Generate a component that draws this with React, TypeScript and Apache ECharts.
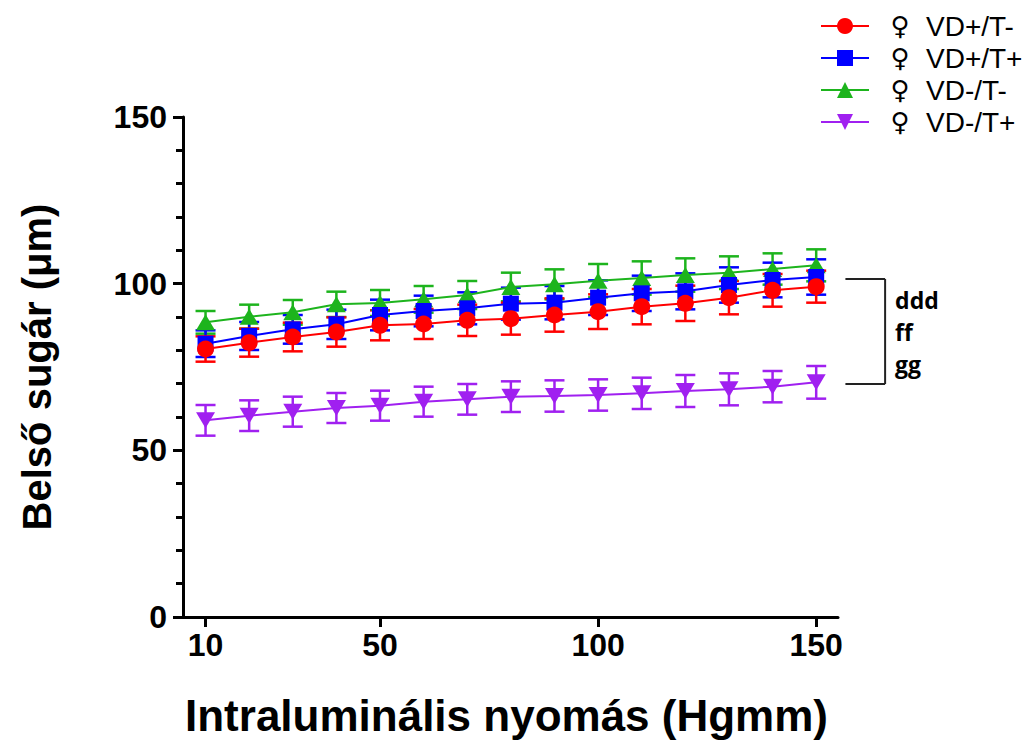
import React, { useEffect, useRef } from "react";
import * as echarts from "echarts";

const pressures = [10, 20, 30, 40, 50, 60, 70, 80, 90, 100, 110, 120, 130, 140, 150];

const vdPosTNeg = [80.4, 82.3, 84.0, 85.5, 87.5, 87.9, 89.0, 89.5, 90.6, 91.6, 93.1, 94.1, 95.8, 98.0, 99.1];
const vdPosTNegErr = [3.8, 4.2, 4.3, 4.4, 4.5, 4.5, 4.7, 4.8, 5.0, 5.2, 5.3, 5.3, 5.0, 4.9, 4.8];

const vdPosTPos = [82.0, 84.3, 86.3, 87.8, 90.6, 91.8, 92.6, 94.0, 94.3, 95.8, 97.1, 97.7, 99.6, 101.1, 102.0];
const vdPosTPosErr = [4.0, 4.2, 4.3, 4.4, 4.6, 4.6, 4.8, 4.8, 5.0, 5.2, 5.3, 5.4, 5.3, 5.2, 5.3];

const vdNegTNeg = [88.4, 90.1, 91.4, 93.8, 94.2, 95.3, 96.6, 99.0, 99.8, 100.9, 101.7, 102.6, 103.3, 104.4, 105.5];
const vdNegTNegErr = [3.4, 3.6, 3.7, 3.8, 3.9, 4.0, 4.2, 4.3, 4.5, 5.0, 5.0, 5.0, 4.9, 4.7, 4.8];

const vdNegTPos = [59.0, 60.4, 61.6, 62.7, 63.4, 64.6, 65.3, 66.1, 66.3, 66.6, 67.1, 67.8, 68.3, 69.1, 70.4];
const vdNegTPosErr = [4.6, 4.6, 4.5, 4.5, 4.5, 4.5, 4.6, 4.6, 4.7, 4.7, 4.7, 4.8, 4.8, 4.7, 4.9];

const seriesNames = ["♀ VD+/T-", "♀ VD+/T+", "♀ VD-/T-", "♀ VD-/T+"];
const xTickValues = [10, 50, 100, 150];
const annotationLines = ["ddd", "ff", "gg"];

const FONT = "'Liberation Sans', Arial, Helvetica, sans-serif";

function lineSeries(name: string, values: number[], color: string, symbol: string, size: any, rotate = 0) {
  return {
    name,
    type: "line",
    data: pressures.map((p, i) => [p, values[i]]),
    symbol,
    symbolSize: size,
    symbolRotate: rotate,
    showAllSymbol: true,
    lineStyle: { color, width: 2 },
    itemStyle: { color, opacity: 1 },
    z: 3,
  };
}

function errorSeries(name: string, values: number[], errs: number[], color: string) {
  return {
    name,
    type: "custom",
    coordinateSystem: "cartesian2d",
    data: pressures.map((p, i) => [p, values[i], errs[i]]),
    encode: { x: 0, y: 1 },
    z: 3,
    renderItem: (params: any, api: any) => {
      const x = api.value(0);
      const y = api.value(1);
      const e = api.value(2);
      const top = api.coord([x, y + e]);
      const bot = api.coord([x, y - e]);
      const hw = 10;
      const style = { stroke: color, lineWidth: 2.5 };
      return {
        type: "group",
        children: [
          { type: "line", shape: { x1: top[0], y1: top[1], x2: bot[0], y2: bot[1] }, style },
          { type: "line", shape: { x1: top[0] - hw, y1: top[1], x2: top[0] + hw, y2: top[1] }, style },
          { type: "line", shape: { x1: bot[0] - hw, y1: bot[1], x2: bot[0] + hw, y2: bot[1] }, style },
        ],
      };
    },
  };
}

export default function App() {
  const ref = useRef<HTMLDivElement>(null);

  useEffect(() => {
    document.body.style.margin = "0";
    const chart = echarts.init(ref.current!, null, { renderer: "svg" });
    const RED = "#ff0000";
    const BLUE = "#0000ff";
    const GREEN = "#1db41d";
    const PURPLE = "#a020f0";

    const option: any = {
      animation: false,
      backgroundColor: "#ffffff",
      grid: { left: 175, right: 186, top: 117, bottom: 125, containLabel: false, outerBoundsMode: "none" },
      legend: {
        data: seriesNames,
        orient: "vertical",
        left: 815,
        top: 7,
        itemWidth: 48,
        itemHeight: 20,
        itemGap: 4,
        formatter: (n: string) => `{s|${n.slice(0, 1)}}{t|${n.slice(2)}}`,
        textStyle: {
          color: "#000",
          fontSize: 28,
          fontFamily: FONT,
          rich: {
            s: { width: 52, align: "center", fontSize: 26, lineHeight: 28, color: "#000", fontFamily: "'DejaVu Sans', sans-serif" },
            t: { fontSize: 28, lineHeight: 28, color: "#000", fontFamily: FONT },
          },
        },
      },
      xAxis: {
        type: "value",
        min: 3,
        max: 155,
        name: "Intraluminális nyomás (Hgmm)",
        nameLocation: "middle",
        nameGap: 76,
        nameTextStyle: { fontSize: 44, fontWeight: "bold", color: "#000", fontFamily: FONT },
        axisLine: { show: true, onZero: false, lineStyle: { color: "#000", width: 3 } },
        axisTick: { show: true, customValues: xTickValues, length: 10, lineStyle: { color: "#000", width: 3 } },
        axisLabel: { customValues: xTickValues, margin: 12, fontSize: 32, fontWeight: "bold", color: "#000", fontFamily: FONT },
        splitLine: { show: false },
      },
      yAxis: {
        type: "value",
        min: 0,
        max: 150,
        interval: 50,
        offset: -8,
        name: "Belső sugár (μm)",
        nameLocation: "middle",
        nameGap: 126,
        nameTextStyle: { fontSize: 40, fontWeight: "bold", color: "#000", fontFamily: FONT },
        axisLine: { show: true, lineStyle: { color: "#000", width: 3 } },
        axisTick: { show: true, length: 10, lineStyle: { color: "#000", width: 3 } },
        minorTick: { show: true, splitNumber: 5, length: 7, lineStyle: { color: "#000", width: 3 } },
        axisLabel: { margin: 16, fontSize: 32, fontWeight: "bold", color: "#000", fontFamily: FONT },
        splitLine: { show: false },
      },
      series: [
        errorSeries("errD", vdNegTPos, vdNegTPosErr, PURPLE),
        lineSeries(seriesNames[3], vdNegTPos, PURPLE, "triangle", [19, 16], 180),
        errorSeries("errC", vdNegTNeg, vdNegTNegErr, GREEN),
        lineSeries(seriesNames[2], vdNegTNeg, GREEN, "triangle", [19, 16]),
        errorSeries("errB", vdPosTPos, vdPosTPosErr, BLUE),
        lineSeries(seriesNames[1], vdPosTPos, BLUE, "rect", 16),
        errorSeries("errA", vdPosTNeg, vdPosTNegErr, RED),
        lineSeries(seriesNames[0], vdPosTNeg, RED, "circle", 17),
      ],
    };
    chart.setOption(option);

    const px = (x: number, y: number) => chart.convertToPixel({ gridIndex: 0 }, [x, y]) as number[];
    const a = px(156.7, 101.4);
    const b = px(165.8, 69.9);
    const bracketStyle = { stroke: "#222", lineWidth: 2 };
    chart.setOption({
      graphic: [
        { type: "line", shape: { x1: a[0], y1: a[1], x2: b[0], y2: a[1] }, style: bracketStyle },
        { type: "line", shape: { x1: b[0], y1: a[1], x2: b[0], y2: b[1] }, style: bracketStyle },
        { type: "line", shape: { x1: a[0], y1: b[1], x2: b[0], y2: b[1] }, style: bracketStyle },
        {
          type: "text",
          x: b[0] + 10,
          y: (a[1] + b[1]) / 2,
          style: {
            text: annotationLines.join("\n"),
            fontSize: 23,
            fontWeight: "bold",
            fontFamily: "'Open Sans', sans-serif",
            lineHeight: 32,
            fill: "#000",
            verticalAlign: "middle",
            align: "left",
          },
        },
      ],
    });

    return () => chart.dispose();
  }, []);

  return <div ref={ref} style={{ width: 1024, height: 742 }} />;
}
